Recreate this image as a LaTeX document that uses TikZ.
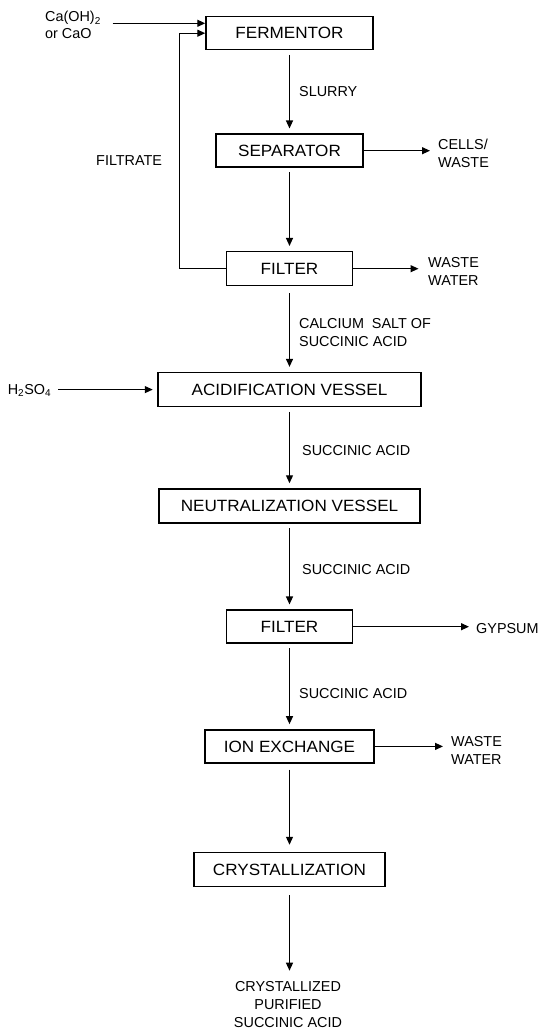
\documentclass[tikz,border=0pt]{standalone}
\usepackage{fontspec}
\setmainfont{Liberation Sans}
\newfontfamily\boxfont[FakeStretch=1.05]{Liberation Sans}
\usetikzlibrary{arrows.meta}
\begin{document}
\begin{tikzpicture}[x=1pt,y=-1pt,
  proc/.style={draw, line width=1.5pt, inner sep=0pt, minimum height=33pt, font=\boxfont\fontsize{16.3}{19}\selectfont},
  lab/.style={inner sep=0pt, font=\fontsize{14.4}{18}\selectfont, align=left},
  arr/.style={line width=1.2pt, -{Triangle[length=8pt,width=7pt]}},
  flow/.style={arr, shorten <=4.5pt, shorten >=5pt}]
\fill[white] (0,0) rectangle (542,1030);
\useasboundingbox (0,0) rectangle (542,1030);
% process boxes
\node[proc, minimum width=167pt] (ferm) at (289.5,33.2) {FERMENTOR};
\node[proc, minimum width=147pt] (sep) at (289.5,150.7) {SEPARATOR};
\node[proc, minimum width=126pt, minimum height=34pt] (fil1) at (289.5,268.7) {FILTER};
\node[proc, minimum width=263pt, minimum height=34pt] (acid) at (289.5,389.6) {ACIDIFICATION VESSEL};
\node[proc, minimum width=261pt, minimum height=34pt] (neut) at (289.5,506) {NEUTRALIZATION VESSEL};
\node[proc, minimum width=126pt] (fil2) at (289.5,626.7) {FILTER};
\node[proc, minimum width=169pt] (ion) at (289.5,746.4) {ION EXCHANGE};
\node[proc, minimum width=191pt, minimum height=34pt] (cryst) at (289.5,869.5) {CRYSTALLIZATION};
% labels
\node[lab, anchor=north west, font=\fontsize{14.4}{16.5}\selectfont] (caoh) at (45,11.3) {Ca(OH)\textsubscript{2}\\or CaO};
\node[lab, anchor=base west] (slurry) at (299,96.9) {SLURRY};
\node[lab, anchor=west] (cells) at (438,153.3) {CELLS/\\WASTE};
\node[lab, anchor=base west] (filtrate) at (96,165) {FILTRATE};
\node[lab, anchor=west] (ww1) at (428,271.3) {WASTE\\WATER};
\node[lab, anchor=west] (calc) at (299,332.2) {CALCIUM\ \ SALT OF\\SUCCINIC ACID};
\node[lab, anchor=base west] (h2so4) at (7.6,394.5) {H\textsubscript{2}SO\textsubscript{4}};
\node[lab, anchor=base west] (succ1) at (302,455.2) {SUCCINIC ACID};
\node[lab, anchor=base west] (succ2) at (302,574.5) {SUCCINIC ACID};
\node[lab, anchor=base west] (gyp) at (476,633.3) {GYPSUM};
\node[lab, anchor=base west] (succ3) at (299,698.5) {SUCCINIC ACID};
\node[lab, anchor=west] (ww2) at (451,750) {WASTE\\WATER};
\node[lab, anchor=center, align=center] (prod) at (288,1005) {CRYSTALLIZED\\PURIFIED\\SUCCINIC ACID};
% main flow
\draw[flow] (ferm.south) -- (sep.north);
\draw[flow] (sep.south) -- (fil1.north);
\draw[flow, shorten <=7pt] (fil1.south) -- (acid.north);
\draw[flow] (acid.south) -- (neut.north);
\draw[flow] (neut.south) -- (fil2.north);
\draw[flow] (fil2.south) -- (ion.north);
\draw[flow, shorten <=6pt, shorten >=7pt] (ion.south) -- (cryst.north);
\draw[arr, shorten <=8pt, shorten >=11pt] (cryst.south) -- (cryst.south |- prod.north);
% side streams
\draw[arr, shorten >=8pt] (sep.east) -- (sep.east -| cells.west);
\draw[arr, shorten >=9.5pt] (fil1.east) -- (fil1.east -| ww1.west);
\draw[arr, shorten >=7pt] (fil2.east) -- (fil2.east -| gyp.west);
\draw[arr, shorten >=8pt] (ion.east) -- (ion.east -| ww2.west);
% inputs and recycle
\coordinate (loopx) at (179.5,0);
\draw[arr] (fil1.west) -| (loopx |- ferm.west) -- (ferm.west);
\coordinate (cain) at (112.7,23.3);
\draw[arr] (cain) -- (cain -| ferm.west);
\draw[arr, shorten <=7pt, shorten >=4.5pt] (h2so4.east |- acid.west) -- (acid.west);
\end{tikzpicture}
\end{document}
